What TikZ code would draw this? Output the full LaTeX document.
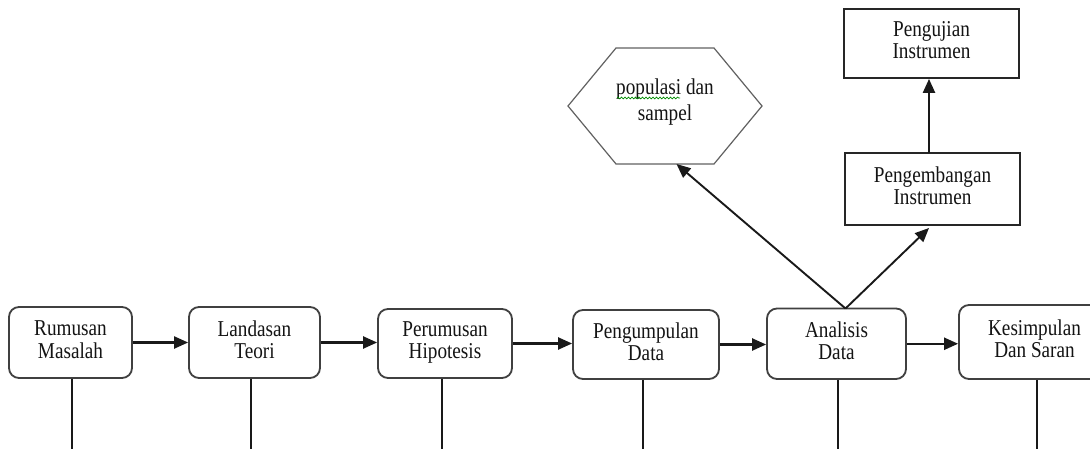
\documentclass[tikz,border=0pt]{standalone}
\usepackage{fontspec}
\setmainfont{Liberation Serif}
\usetikzlibrary{arrows.meta,decorations.pathmorphing}
% two-line centred label, slightly stretched vertically
\newcommand{\lbl}[1]{\scalebox{1}[1.18]{\begin{tabular}{@{}c@{}}#1\end{tabular}}}
\begin{document}
\begin{tikzpicture}[x=1pt,y=-1pt,
  txt/.style={font=\fontsize{19.2}{18.6}\selectfont, text=black!92, inner sep=0pt},
  stage/.style={txt, draw=black!75, line width=1.8pt, rounded corners=10pt},
  plainbox/.style={txt, draw=black!85, line width=1.8pt},
  hexline/.style={draw=black!62, line width=1.2pt, line join=miter},
  flow/.style={-{Triangle[length=14pt,width=12pt]}, line width=2.2pt, draw=black!90},
  slant/.style={-{Triangle[length=14pt,width=12pt]}, line width=1.9pt, draw=black!90},
  stem/.style={line width=1.5pt, draw=black!90}]
\useasboundingbox (0,0) rectangle (1090,449);
\fill[white] (0,0) rectangle (1090,449);

% main row of stages
\node[stage, minimum width=123pt, minimum height=71pt] (rm) at (70.5,342.5) {\raisebox{-2pt}{\lbl{Rumusan\\Masalah}}};
\node[stage, minimum width=131pt, minimum height=71pt] (lt) at (254.5,342.5) {\raisebox{-2pt}{\lbl{Landasan\\Teori}}};
\node[stage, minimum width=134pt, minimum height=69pt] (ph) at (445,343.5) {\raisebox{-2pt}{\lbl{Perumusan\\Hipotesis}}};
\node[stage, minimum width=146pt, minimum height=69pt] (pd) at (646,344.5) {\raisebox{-2pt}{\lbl{Pengumpulan\\Data}}};
\node[stage, minimum width=139pt, minimum height=70.5pt] (ad) at (836.5,343.75) {\raisebox{2pt}{\lbl{Analisis\\Data}}};
\node[stage, minimum width=151pt, minimum height=74pt] (ks) at (1034.5,342) {\lbl{Kesimpulan\\Dan Saran}};

% instrument boxes
\node[plainbox, minimum width=175pt, minimum height=69pt] (test) at (931.5,43.5) {\raisebox{-2pt}{\lbl{Pengujian\\Instrumen}}};
\node[plainbox, minimum width=175pt, minimum height=72pt] (dev) at (932.5,189) {\lbl{Pengembangan\\Instrumen}};

% population hexagon
\draw[hexline] (568,106) -- (616,48) -- (714,48) -- (762,106) -- (714,164) -- (616,164) -- cycle;
\node[txt] (pop) at (665,103) {\lbl{populasi dan\\[3.5pt]sampel}};
\draw[green!55!black, line width=0.7pt, decorate,
      decoration={snake, amplitude=0.9pt, segment length=3.5pt}] (617,98) -- (680,98);

% flow along the row
\draw[flow] (rm.east) -- (rm.east -| lt.west);
\draw[flow] (lt.east) -- (lt.east -| ph.west);
\draw[flow] (ph.east) -- (ph.east -| pd.west);
\draw[flow] (pd.east) -- (pd.east -| ad.west);
\draw[flow] (ad.east) -- (ad.east -| ks.west);

% branches from data analysis
\coordinate (apex) at (845.5,308.5);
\coordinate (hexfoot) at (676.5,164);
\coordinate (devfoot) at (929,228);
\coordinate (devtop) at (929,153);
\draw[slant] (apex) -- (hexfoot);
\draw[slant] (apex) -- (devfoot);
\draw[flow] (devtop) -- (devtop |- test.south);

% stems below each stage
\coordinate (s1) at (72,449);
\coordinate (s2) at (251,449);
\coordinate (s3) at (442,449);
\coordinate (s4) at (643,449);
\coordinate (s5) at (838,449);
\coordinate (s6) at (1037,449);
\draw[stem] (rm.south -| s1) -- (s1);
\draw[stem] (lt.south -| s2) -- (s2);
\draw[stem] (ph.south -| s3) -- (s3);
\draw[stem] (pd.south -| s4) -- (s4);
\draw[stem] (ad.south -| s5) -- (s5);
\draw[stem] (ks.south -| s6) -- (s6);
\end{tikzpicture}
\end{document}
